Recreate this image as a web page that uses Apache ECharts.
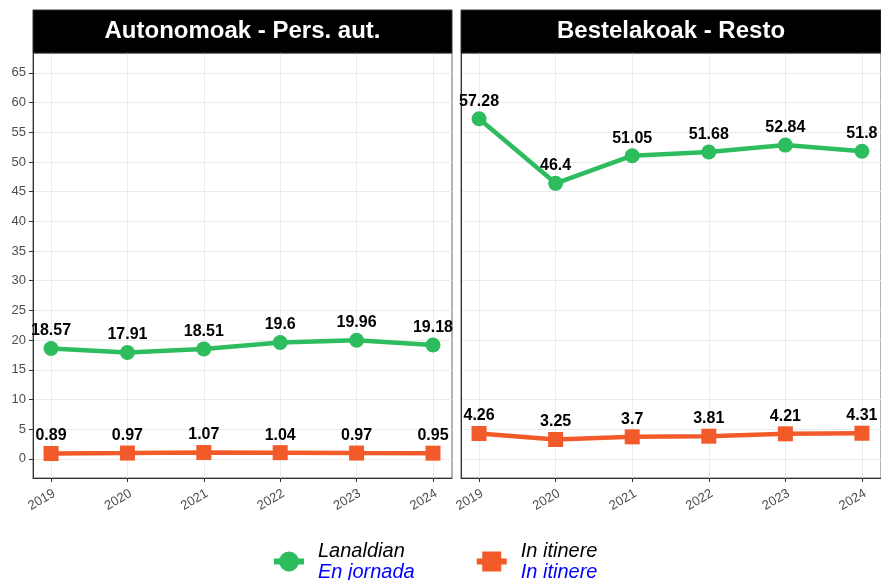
<!DOCTYPE html>
<html><head><meta charset="utf-8">
<script src="https://cdn.jsdelivr.net/npm/echarts@6/dist/echarts.min.js"></script>
<style>html,body{margin:0;padding:0;background:#fff}#c{width:881px;height:580px}</style>
</head><body><div id="c"></div>
<script>
const years = [2019, 2020, 2021, 2022, 2023, 2024];
const panelTitles = ['Autonomoak - Pers. aut.', 'Bestelakoak - Resto'];
const lanaldianAuto = [18.57, 17.91, 18.51, 19.6, 19.96, 19.18];
const itinereAuto = [0.89, 0.97, 1.07, 1.04, 0.97, 0.95];
const lanaldianResto = [57.28, 46.4, 51.05, 51.68, 52.84, 51.8];
const itinereResto = [4.26, 3.25, 3.7, 3.81, 4.21, 4.31];
const yTicks = [0, 5, 10, 15, 20, 25, 30, 35, 40, 45, 50, 55, 60, 65];
const legendNames = ['Lanaldian', 'In itinere'];
const legendSub = ['En jornada', 'In itinere'];

const GREEN = '#2dbd5f', ORANGE = '#f25a29';
const FONT = 'Liberation Sans, Arial, sans-serif';

const chart = echarts.init(document.getElementById('c'));

function xAxis(gi) {
  return {
    type: 'value', gridIndex: gi, min: 2018.764, max: 2024.249,
    axisLine: { show: true, onZero: false, lineStyle: { color: '#333', width: 1 } },
    axisTick: { show: true, length: 4, customValues: years, lineStyle: { color: '#333' } },
    axisLabel: { customValues: years, rotate: 30, align: 'right', verticalAlign: 'top', color: '#4d4d4d', fontSize: 13, fontFamily: FONT, margin: 9, formatter: v => String(v) },
    splitLine: { show: true, lineStyle: { color: '#ebebeb', width: 1 } }
  };
}
function yAxis(gi, showLabels) {
  return {
    type: 'value', gridIndex: gi, min: -3.23, max: 68.35,
    axisLine: { show: true, onZero: false, lineStyle: { color: '#333', width: 1 } },
    axisTick: { show: showLabels, length: 4, customValues: yTicks, lineStyle: { color: '#333' } },
    axisLabel: { show: showLabels, customValues: yTicks, color: '#4d4d4d', fontSize: 13, fontFamily: FONT, margin: 7 },
    splitLine: { show: true, lineStyle: { color: '#ebebeb', width: 1 } }
  };
}
function series(name, vals, gi, color, symbol) {
  return {
    name, type: 'line', xAxisIndex: gi, yAxisIndex: gi,
    data: years.map((y, i) => [y, vals[i]]),
    symbol, symbolSize: 15,
    lineStyle: { color, width: 4.5 },
    itemStyle: { color },
    label: { show: true, position: 'top', distance: 2, color: '#000', fontWeight: 'bold', fontSize: 16, fontFamily: FONT, formatter: p => String(p.value[1]) },
    emphasis: { disabled: true },
    animation: false
  };
}

const circleIcon = 'path://M0,7 L30,7 L30,13 L0,13 Z M5,10 A10,10 0 1,1 25,10 A10,10 0 1,1 5,10 Z';
const squareIcon = 'path://M0,7 L30,7 L30,13 L0,13 Z M5.5,0 L24.5,0 L24.5,20 L5.5,20 Z';

const option = {
  animation: false,
  backgroundColor: '#fff',
  grid: [
    { left: 33, top: 53, width: 419, height: 425, show: true, borderColor: '#666', borderWidth: 1, backgroundColor: 'transparent' },
    { left: 461, top: 53, width: 420, height: 425, show: true, borderColor: '#666', borderWidth: 1, backgroundColor: 'transparent' }
  ],
  xAxis: [xAxis(0), xAxis(1)],
  yAxis: [yAxis(0, true), yAxis(1, false)],
  legend: {
    data: [
      { name: legendNames[0], icon: circleIcon, itemStyle: { color: GREEN } },
      { name: legendNames[1], icon: squareIcon, itemStyle: { color: ORANGE } }
    ],
    left: 269, top: 536, orient: 'horizontal',
    itemWidth: 30, itemHeight: 20, itemGap: 62,
    selectedMode: false,
    formatter: n => '{a|' + n + '}\n{b|' + legendSub[legendNames.indexOf(n)] + '}',
    textStyle: {
      padding: [0, 0, 0, 9],
      rich: {
        a: { color: '#000', fontStyle: 'italic', fontSize: 20, fontFamily: FONT, lineHeight: 21 },
        b: { color: '#0000ff', fontStyle: 'italic', fontSize: 20, fontFamily: FONT, lineHeight: 21 }
      }
    }
  },
  graphic: [
    { type: 'rect', shape: { x: 33, y: 10, width: 419, height: 43 }, style: { fill: '#000', stroke: '#333', lineWidth: 1 }, z: 10 },
    { type: 'rect', shape: { x: 461, y: 10, width: 420, height: 43 }, style: { fill: '#000', stroke: '#333', lineWidth: 1 }, z: 10 },
    { type: 'text', x: 242.5, y: 31.5, style: { text: panelTitles[0], fill: '#fff', font: 'bold 24px ' + FONT, align: 'center', verticalAlign: 'middle' }, z: 11 },
    { type: 'text', x: 671, y: 31.5, style: { text: panelTitles[1], fill: '#fff', font: 'bold 24px ' + FONT, align: 'center', verticalAlign: 'middle' }, z: 11 }
  ],
  series: [
    series(legendNames[0], lanaldianAuto, 0, GREEN, 'circle'),
    series(legendNames[1], itinereAuto, 0, ORANGE, 'rect'),
    series(legendNames[0], lanaldianResto, 1, GREEN, 'circle'),
    series(legendNames[1], itinereResto, 1, ORANGE, 'rect')
  ]
};
chart.setOption(option);
</script>
</body></html>
